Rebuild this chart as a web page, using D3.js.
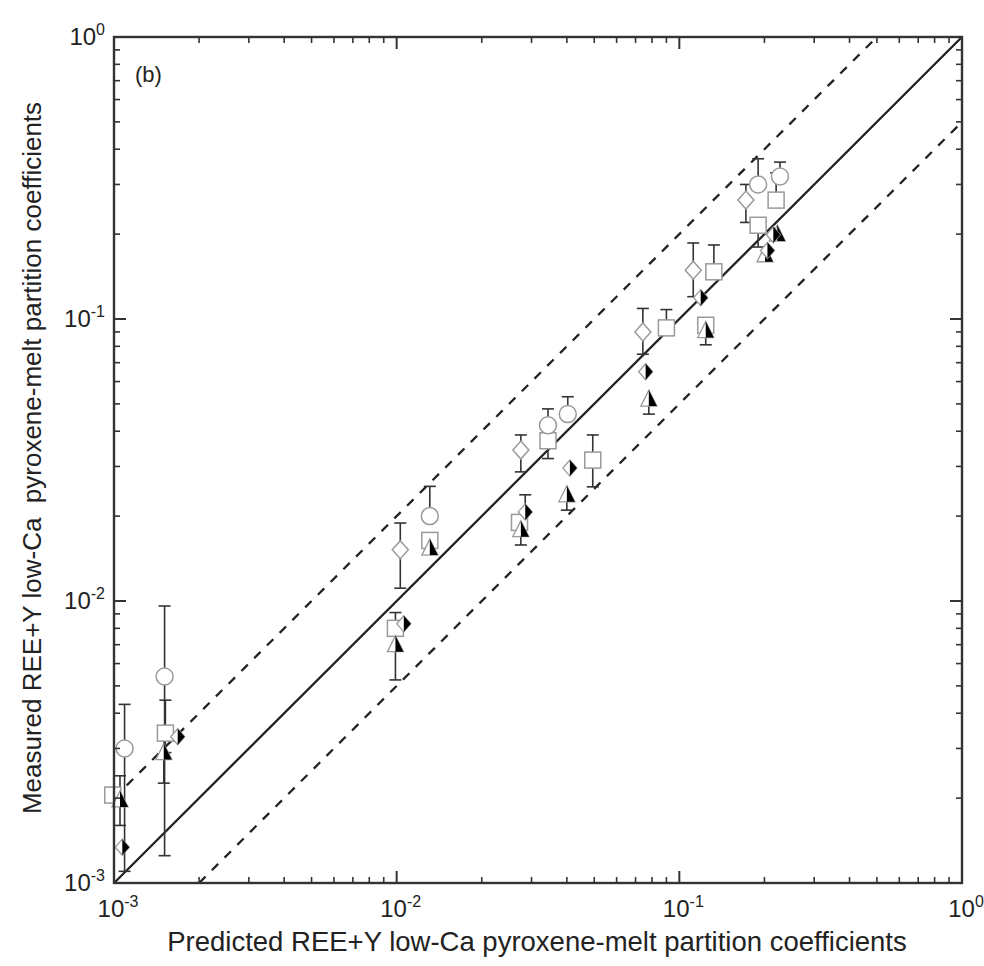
<!DOCTYPE html>
<html><head><meta charset="utf-8">
<script src="https://cdn.jsdelivr.net/npm/d3@7"></script>
<style>body{margin:0;background:#fff}svg{display:block}text{font-family:"Liberation Sans",Arial,sans-serif;fill:#222}</style>
</head><body>
<script>
// ---- data ----
const circleX  = [1.09e-3, 1.51e-3, 1.31e-2, 3.43e-2, 4.03e-2, 0.19, 0.227];
const circleY  = [3.0e-3, 5.4e-3, 2.0e-2, 4.2e-2, 4.6e-2, 0.30, 0.32];
const circleLo = [1.1e-3, 1.25e-3, null, null, null, null, null];
const circleHi = [4.3e-3, 9.6e-3, 2.55e-2, 4.8e-2, 5.3e-2, 0.37, 0.36];

const diamondX  = [1.03e-2, 2.75e-2, 7.43e-2, 0.112, 0.172];
const diamondY  = [1.52e-2, 3.43e-2, 9.0e-2, 0.149, 0.264];
const diamondLo = [1.11e-2, 2.87e-2, 7.5e-2, 0.12, 0.22];
const diamondHi = [1.89e-2, 3.88e-2, 0.109, 0.186, 0.30];

const squareX  = [0.99e-3, 1.52e-3, 1.31e-2, 9.9e-3, 2.72e-2, 3.43e-2, 4.94e-2, 9.0e-2, 0.1325, 0.124, 0.19, 0.22];
const squareY  = [2.05e-3, 3.4e-3, 1.64e-2, 8.0e-3, 1.9e-2, 3.7e-2, 3.16e-2, 9.3e-2, 0.147, 0.095, 0.215, 0.264];
const squareLo = [null, 2.9e-3, 1.5e-2, null, null, 3.2e-2, 2.54e-2, null, null, null, 0.18, null];
const squareHi = [null, 4.45e-3, null, null, null, null, 3.88e-2, 0.108, 0.183, null, null, 0.33];

const triX  = [1.05e-3, 1.5e-3, 9.9e-3, 1.31e-2, 2.75e-2, 4.0e-2, 7.8e-2, 0.124, 0.201, 0.222];
const triY  = [1.97e-3, 2.9e-3, 7.0e-3, 1.54e-2, 1.79e-2, 2.38e-2, 5.2e-2, 9.1e-2, 0.169, 0.2];
const triLo = [1.6e-3, 2.26e-3, 5.25e-3, null, 1.58e-2, 2.1e-2, 4.6e-2, 8.1e-2, null, null];
const triHi = [2.4e-3, 3.5e-3, 9.1e-3, null, null, null, null, null, null, null];

const hdX  = [1.07e-3, 1.68e-3, 1.06e-2, 2.85e-2, 4.1e-2, 7.6e-2, 0.119, 0.215, 0.205];
const hdY  = [1.34e-3, 3.3e-3, 8.3e-3, 2.07e-2, 2.96e-2, 6.5e-2, 0.119, 0.199, 0.175];
const hdLo = [null, null, null, null, null, null, null, null, null];
const hdHi = [null, null, null, 2.38e-2, null, null, null, null, null];

const tickExps = [-3, -2, -1, 0];
const refFactors = [1, 2, 0.5];

// ---- layout ----
const W = 984, H = 966;
const L = 114, R = 962, T = 37, B = 883;
const svg = d3.select("body").append("svg").attr("width", W).attr("height", H);
const x = d3.scaleLog().domain([1e-3, 1]).range([L, R]);
const y = d3.scaleLog().domain([1e-3, 1]).range([B, T]);

const plot = svg.append("g");
svg.append("clipPath").attr("id", "clp").append("rect")
  .attr("x", L).attr("y", T).attr("width", R - L).attr("height", B - T);

// reference lines y = f*x
const lg = plot.append("g").attr("clip-path", "url(#clp)");
refFactors.forEach(f => {
  const x0 = Math.max(1e-3, 1e-3 / f), x1 = Math.min(1, 1 / f);
  lg.append("line")
    .attr("x1", x(x0)).attr("y1", y(x0 * f))
    .attr("x2", x(x1)).attr("y2", y(x1 * f))
    .attr("stroke", "#222").attr("stroke-width", 2.3)
    .attr("stroke-dasharray", f === 1 ? null : "9,9");
});

// error bars
function errbars(X, Y, Lo, Hi) {
  const g = plot.append("g").attr("stroke", "#333").attr("stroke-width", 1.6);
  X.forEach((xv, i) => {
    const px = x(xv);
    const top = Hi[i] != null ? Hi[i] : Y[i];
    const bot = Lo[i] != null ? Lo[i] : Y[i];
    if (top === bot) return;
    g.append("line").attr("x1", px).attr("x2", px).attr("y1", y(top)).attr("y2", y(bot));
    if (Hi[i] != null) g.append("line").attr("x1", px - 6).attr("x2", px + 6).attr("y1", y(top)).attr("y2", y(top));
    if (Lo[i] != null) g.append("line").attr("x1", px - 6).attr("x2", px + 6).attr("y1", y(bot)).attr("y2", y(bot));
  });
}
errbars(circleX, circleY, circleLo, circleHi);
errbars(diamondX, diamondY, diamondLo, diamondHi);
errbars(squareX, squareY, squareLo, squareHi);
errbars(triX, triY, triLo, triHi);
errbars(hdX, hdY, hdLo, hdHi);

const openStroke = "#9a9a9a";
// squares
plot.append("g").selectAll("rect").data(squareX).join("rect")
  .attr("x", (d) => x(d) - 8).attr("y", (d, i) => y(squareY[i]) - 8)
  .attr("width", 16).attr("height", 16)
  .attr("fill", "#fff").attr("stroke", openStroke).attr("stroke-width", 1.5);
// circles
plot.append("g").selectAll("circle").data(circleX).join("circle")
  .attr("cx", d => x(d)).attr("cy", (d, i) => y(circleY[i])).attr("r", 8.5)
  .attr("fill", "#fff").attr("stroke", openStroke).attr("stroke-width", 1.5);
// diamonds
plot.append("g").selectAll("path").data(diamondX).join("path")
  .attr("transform", (d, i) => `translate(${x(d)},${y(diamondY[i])})`)
  .attr("d", "M0,-9L8,0L0,9L-8,0Z")
  .attr("fill", "#fff").attr("stroke", openStroke).attr("stroke-width", 1.5);
// half-filled triangles
const tg = plot.append("g").selectAll("g").data(triX).join("g")
  .attr("transform", (d, i) => `translate(${x(d)},${y(triY[i])})`);
tg.append("path").attr("d", "M0,-9L8,7L-8,7Z").attr("fill", "#fff").attr("stroke", openStroke).attr("stroke-width", 1.3);
tg.append("path").attr("d", "M0,-9L8,7L0,7Z").attr("fill", "#000");
// half-filled diamonds
const hg = plot.append("g").selectAll("g").data(hdX).join("g")
  .attr("transform", (d, i) => `translate(${x(d)},${y(hdY[i])})`);
hg.append("path").attr("d", "M0,-8L7,0L0,8L-7,0Z").attr("fill", "#fff").attr("stroke", openStroke).attr("stroke-width", 1.3);
hg.append("path").attr("d", "M0,-8L7,0L0,8Z").attr("fill", "#000");

// frame & ticks
const fg = svg.append("g").attr("stroke", "#333");
fg.append("rect").attr("x", L).attr("y", T).attr("width", R - L).attr("height", B - T)
  .attr("fill", "none").attr("stroke-width", 2.4);
const minor = [];
for (let e = -3; e < 0; e++) for (let k = 2; k <= 9; k++) minor.push(k * Math.pow(10, e));
const major = tickExps.map(e => Math.pow(10, e));
function ticks(vals, len, sw) {
  vals.forEach(v => {
    const px = x(v), py = y(v);
    fg.append("line").attr("x1", px).attr("x2", px).attr("y1", B).attr("y2", B - len).attr("stroke-width", sw);
    fg.append("line").attr("x1", px).attr("x2", px).attr("y1", T).attr("y2", T + len).attr("stroke-width", sw);
    fg.append("line").attr("y1", py).attr("y2", py).attr("x1", L).attr("x2", L + len).attr("stroke-width", sw);
    fg.append("line").attr("y1", py).attr("y2", py).attr("x1", R).attr("x2", R - len).attr("stroke-width", sw);
  });
}
ticks(minor, 6, 1.6);
ticks(major, 12, 2);

// tick labels
function label(g, e, px, py, anchor) {
  const t = g.append("text").attr("x", px).attr("y", py).attr("text-anchor", anchor).style("font-size", "24px");
  t.append("tspan").text("10");
  t.append("tspan").attr("dy", -10).style("font-size", "16px").text(e === 0 ? "0" : "-" + (-e));
}
const tl = svg.append("g");
tickExps.forEach(e => {
  label(tl, e, x(Math.pow(10, e)) + 4, B + 34, "middle");
  label(tl, e, L - 9, y(Math.pow(10, e)) + 8, "end");
});

svg.append("text").attr("x", 537).attr("y", 951).attr("text-anchor", "middle")
  .style("font-size", "27.5px").text("Predicted REE+Y low-Ca pyroxene-melt partition coefficients");
svg.append("text").attr("transform", `translate(41,${(T + B) / 2 - 2}) rotate(-90)`)
  .attr("text-anchor", "middle").style("font-size", "26px")
  .attr("xml:space", "preserve")
  .text("Measured REE+Y low-Ca  pyroxene-melt partition coefficients");
svg.append("text").attr("x", 135).attr("y", 82).style("font-size", "22px").text("(b)");
</script>
</body></html>
